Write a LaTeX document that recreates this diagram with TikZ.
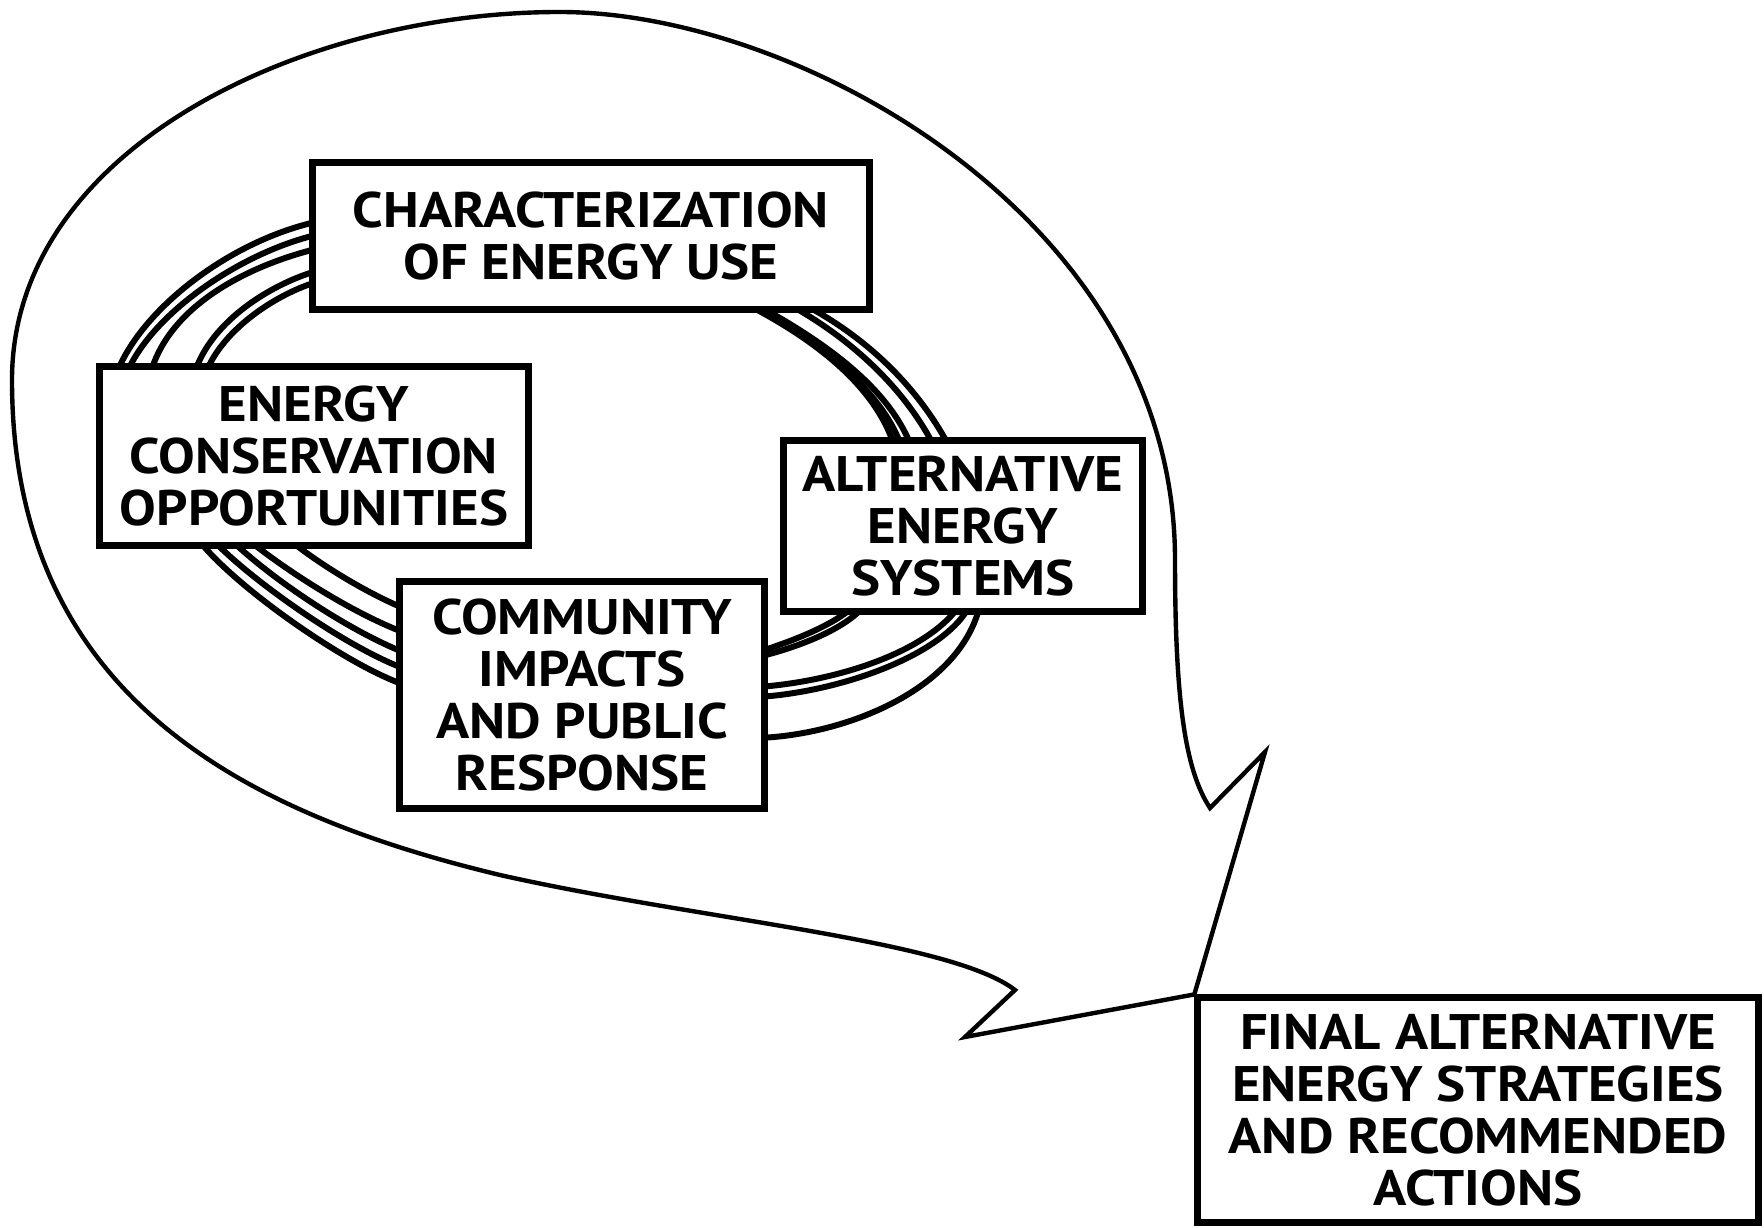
\documentclass[tikz,border=0pt]{standalone}
\usepackage{fontspec}
\setmainfont{PT Sans}[FakeStretch=1.1]
\usepackage{tikz}

\begin{document}
\begin{tikzpicture}[x=0.01cm,y=-0.01cm]

\tikzstyle{topic-b} = [draw, line width=2pt, fill=white, align=center, inner sep=0,
 font=\bfseries\fontsize{14.2}{14.8}\selectfont]
\tikzstyle{ring} = [line width=1.7pt]
\tikzstyle{balloon} = [line width=1.25pt, line join=miter]

\useasboundingbox (0,0) rectangle (1764,1228);

% loops behind the four study boxes
\draw[ring] (320,221) .. controls (230,240) and (140,310) .. (116,375);
\draw[ring] (320,234) .. controls (240,252) and (150,315) .. (126,375);
\draw[ring] (320,248) .. controls (260,262) and (170,300) .. (150,375);
\draw[ring] (320,270) .. controls (275,282) and (210,320) .. (194,375);
\draw[ring] (320,281) .. controls (280,292) and (222,328) .. (205,375);

\draw[ring] (805,305) .. controls (880,345) and (925,400) .. (950,448);
\draw[ring] (790,305) .. controls (862,345) and (910,398) .. (935,448);
\draw[ring] (757,305) .. controls (830,345) and (890,390) .. (912,448);
\draw[ring] (748,305) .. controls (825,345) and (878,392) .. (895,448);
\draw[ring] (752,305) .. controls (828,347) and (884,395) .. (902,448);

\draw[ring] (980,605) .. controls (960,690) and (845,735) .. (758,738);
\draw[ring] (970,605) .. controls (945,655) and (840,692) .. (758,697);
\draw[ring] (960,605) .. controls (925,655) and (830,682) .. (758,687);
\draw[ring] (855,605) .. controls (835,625) and (790,642) .. (758,652);
\draw[ring] (865,605) .. controls (845,630) and (795,648) .. (758,657);

\draw[ring] (197,538) .. controls (232,585) and (350,668) .. (408,686);
\draw[ring] (211,538) .. controls (250,580) and (350,650) .. (408,670);
\draw[ring] (229,538) .. controls (270,578) and (350,632) .. (408,654);
\draw[ring] (246,538) .. controls (285,570) and (355,615) .. (408,634);
\draw[ring] (287,538) .. controls (320,565) and (370,595) .. (408,610);

\node [topic-b, minimum width=5.57cm, minimum height=1.47cm] (charac) at (591,236) {CHARACTERIZATION\\OF ENERGY USE};
\node [topic-b, minimum width=4.28cm, minimum height=1.78cm] (conserv) at (314,456) {ENERGY\\CONSERVATION\\OPPORTUNITIES};
\node [topic-b, minimum width=3.59cm, minimum height=1.71cm] (altsys) at (963,526) {ALTERNATIVE\\ENERGY\\SYSTEMS};
\node [topic-b, minimum width=3.65cm, minimum height=2.26cm] (commun) at (582,695) {COMMUNITY\\IMPACTS\\AND PUBLIC\\RESPONSE};
\node [topic-b, minimum width=5.6cm, minimum height=2.24cm] (final) at (1478,1110) {FINAL ALTERNATIVE\\ENERGY STRATEGIES\\AND RECOMMENDED\\ACTIONS};

% speech balloon pointing at the final box
\draw[balloon] (final.north west) -- (965,1037) -- (1015,990)
  .. controls (950,940) and (700,920) .. (500,875)
  .. controls (250,815) and (12,700) .. (12,380)
  .. controls (12,150) and (300,12) .. (560,12)
  .. controls (800,12) and (1175,220) .. (1175,560)
  .. controls (1175,700) and (1185,770) .. (1210,808)
  -- (1265,752) -- cycle;

\end{tikzpicture}
\end{document}
